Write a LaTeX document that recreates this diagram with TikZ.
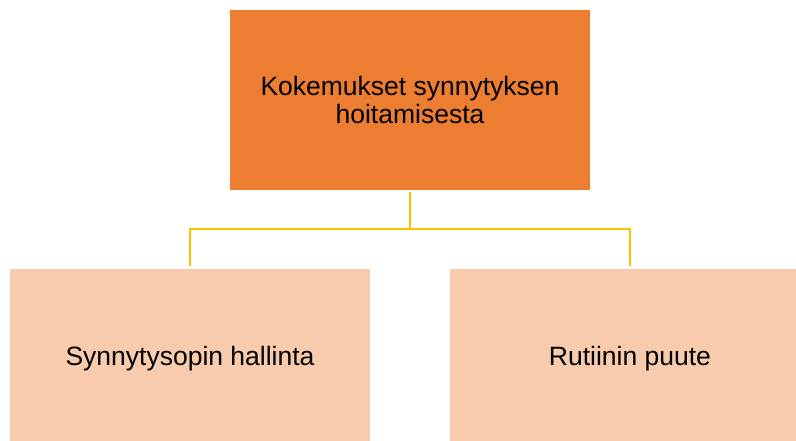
\documentclass[tikz,border=0pt]{standalone}
\usepackage{fontspec}
\setmainfont{Liberation Sans}
\definecolor{topfill}{HTML}{ED7D31}
\definecolor{subfill}{HTML}{F8CBAD}
\definecolor{linkline}{HTML}{FFC000}
\begin{document}
\begin{tikzpicture}[x=1pt, y=1pt,
    topbox/.style={rectangle, fill=topfill, minimum width=360pt, minimum height=180pt, align=center, font=\fontsize{26.5}{28}\selectfont},
    subbox/.style={rectangle, fill=subfill, minimum width=360pt, minimum height=180pt, align=center, font=\fontsize{26.5}{28}\selectfont},
    link/.style={draw=linkline, line width=1.6pt}]
    \useasboundingbox (0,0) rectangle (796,441);
    \clip (0,0) rectangle (796,441);
    \node (experience) at (410,341) [topbox] {Kokemukset synnytyksen\\hoitamisesta};
    \node (theory) at (190,82) [subbox] {Synnytysopin hallinta};
    \node (routine) at (630,82) [subbox] {Rutiinin puute};
    \coordinate (split) at (410,212);
    \draw[link, shorten <=2pt] (experience) -- (split);
    \draw[link, shorten >=3pt] (split) -| (theory);
    \draw[link, shorten >=3pt] (split) -| (routine);
\end{tikzpicture}
\end{document}
